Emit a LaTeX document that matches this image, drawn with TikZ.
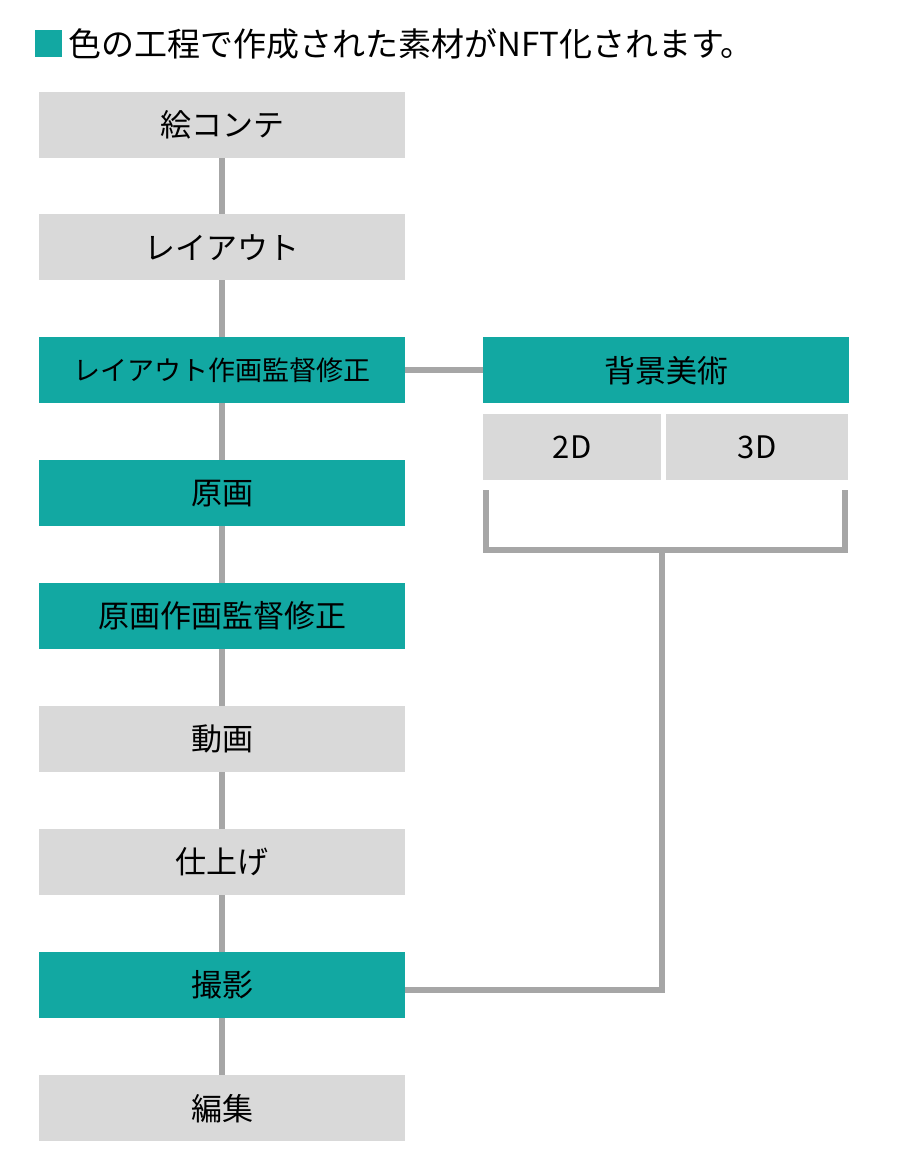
\documentclass[tikz,border=0pt]{standalone}
\usepackage{fontspec}
\setmainfont{Noto Sans CJK JP}
\definecolor{teal1}{HTML}{12A8A2}
\definecolor{grayb}{HTML}{D9D9D9}
\definecolor{linec}{HTML}{A6A6A6}
\begin{document}
\begin{tikzpicture}[x=1pt,y=-1pt,
  bx/.style={minimum width=366pt,minimum height=66pt,inner sep=0pt,font=\fontsize{31}{36}\selectfont,anchor=north west},
  gb/.style={bx,fill=grayb},
  tb/.style={bx,fill=teal1},
  ln/.style={draw=linec,line width=6pt}]
\useasboundingbox (0,0) rectangle (920,1163);
\fill[white] (0,0) rectangle (920,1163);
% connectors behind
\draw[ln] (222,120) -- (222,1110);
\node[tb,minimum width=27pt,minimum height=27pt] (sq) at (35,30) {};
\node[anchor=west,font=\fontsize{33}{38}\selectfont,inner sep=0pt] (title) at (68,43.5) {色の工程で作成された素材がNFT化されます。};
\node[gb] (n1) at (39,92) {絵コンテ};
\node[gb] (n2) at (39,214) {レイアウト};
\node[tb,font=\fontsize{27}{32}\selectfont] (n3) at (39,337) {レイアウト作画監督修正};
\node[tb] (n4) at (39,460) {原画};
\node[tb] (n5) at (39,583) {原画作画監督修正};
\node[gb] (n6) at (39,706) {動画};
\node[gb] (n7) at (39,829) {仕上げ};
\node[tb] (n8) at (39,952) {撮影};
\node[gb] (n9) at (39,1075) {編集};
\node[tb] (bg) at (483,337) {背景美術};
\node[gb,minimum width=178pt] (d2) at (483,414) {2D};
\node[gb,minimum width=182pt] (d3) at (666,414) {3D};
\draw[ln] (n3.east) -- (bg.west);
\coordinate (bl) at (486,490);
\coordinate (br) at (845,490);
\coordinate (bm) at (662,550);
\draw[ln] (bl) -- (486,550) -- (845,550) -- (br);
\draw[ln] (bm) -- (662,990) -- (n8.east |- 0,990);
\end{tikzpicture}
\end{document}
